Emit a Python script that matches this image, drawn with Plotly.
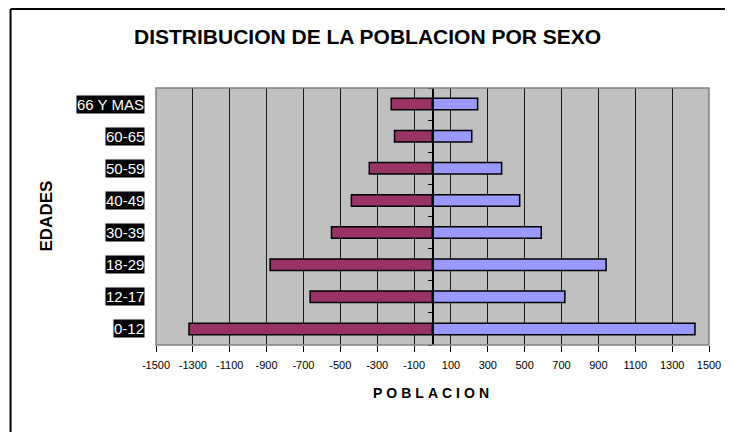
import plotly.graph_objects as go

categorias = ["0-12", "12-17", "18-29", "30-39", "40-49", "50-59", "60-65", "66 Y MAS"]
mujeres = [1321, 664, 881, 548, 440, 343, 206, 224]
hombres = [1424, 718, 942, 590, 473, 375, 213, 245]
x_ticks = list(range(-1500, 1501, 200))

FONT = "Liberation Sans, Arial, sans-serif"

fig = go.Figure()
fig.add_trace(go.Bar(
    y=categorias, x=[-v for v in mujeres], orientation="h", name="Mujeres",
    marker=dict(color="#993366", line=dict(color="black", width=1.5)),
))
fig.add_trace(go.Bar(
    y=categorias, x=hombres, orientation="h", name="Hombres",
    marker=dict(color="#9999FF", line=dict(color="black", width=1.5)),
))

annotations = []
for c in categorias:
    annotations.append(dict(
        x=-0.02, xref="paper", y=c, yref="y", text=c, showarrow=False,
        xanchor="right", yanchor="middle", bgcolor="black", borderpad=0,
        font=dict(family=FONT, size=15, color="white"),
    ))
annotations.append(dict(
    x=0.382, xref="paper", y=1.202, yref="paper", showarrow=False,
    text="<b>DISTRIBUCION DE LA POBLACION POR SEXO</b>",
    xanchor="center", yanchor="middle",
    font=dict(family=FONT, size=21, color="black"),
))
annotations.append(dict(
    x=0.5, xref="paper", y=-0.187, yref="paper", showarrow=False,
    text='<b><span style="letter-spacing:4px">POBLACION</span></b>',
    xanchor="center", yanchor="middle",
    font=dict(family=FONT, size=14, color="black"),
))
annotations.append(dict(
    x=-0.198, xref="paper", y=0.502, yref="paper", showarrow=False,
    text="<b>EDADES</b>", textangle=-90,
    xanchor="center", yanchor="middle",
    font=dict(family=FONT, size=17, color="black"),
))

fig.update_layout(
    width=725, height=424,
    margin=dict(l=148, r=22, t=80, b=87),
    paper_bgcolor="white", plot_bgcolor="#C0C0C0",
    barmode="relative", bargap=0.64,
    showlegend=False,
    annotations=annotations,
    shapes=[
        dict(type="rect", xref="paper", yref="paper", x0=0, x1=1, y0=0, y1=1,
             line=dict(color="#808080", width=1.5), layer="above"),
        dict(type="line", xref="paper", yref="paper", x0=-0.263, x1=1.2, y0=1.307, y1=1.307,
             line=dict(color="black", width=2), layer="above"),
        dict(type="line", xref="paper", yref="paper", x0=-0.263, x1=-0.263, y0=-0.5, y1=1.307,
             line=dict(color="black", width=2), layer="above"),
    ],
    xaxis=dict(
        range=[-1500, 1500], tickvals=x_ticks, ticktext=[str(v) for v in x_ticks],
        showgrid=True, gridcolor="#1a1a1a", gridwidth=1,
        zeroline=False, showline=False,
        ticks="outside", ticklen=6, tickcolor="black", tickwidth=1,
        ticklabelstandoff=4,
        tickfont=dict(family=FONT, size=11, color="black"),
    ),
    yaxis=dict(
        categoryorder="array", categoryarray=categorias,
        anchor="free", position=0.5, side="left",
        showline=True, linecolor="black", linewidth=2,
        showgrid=False, zeroline=False,
        ticks="outside", tickson="boundaries", ticklen=4, tickcolor="black",
        showticklabels=False,
    ),
)

fig.write_html("out.html")
